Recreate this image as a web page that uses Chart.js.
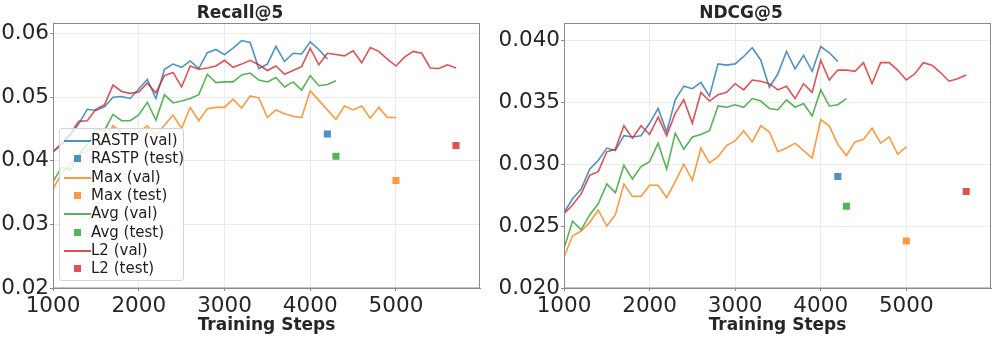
<!DOCTYPE html>
<html><head><meta charset="utf-8">
<script src="https://cdn.jsdelivr.net/npm/chart.js@4.4.1/dist/chart.umd.min.js"></script>
<style>
html,body{margin:0;padding:0;background:#fff;width:996px;height:338px;overflow:hidden;font-family:"DejaVu Sans",sans-serif;}
#wrap{position:relative;width:996px;height:338px;}
#c1{position:absolute;left:0;top:0;}
#c2{position:absolute;left:490px;top:0;}
#legend{position:absolute;left:59px;top:128px;width:125px;height:153px;border:1px solid #d4d4d4;border-radius:3px;background:rgba(255,255,255,0.8);box-sizing:border-box;}
.row{position:absolute;left:0;height:18px;width:122px;}
.ln{position:absolute;left:4px;top:8px;width:27px;height:2px;}
.sq{position:absolute;left:14px;top:5px;width:7px;height:7px;}
.tx{position:absolute;left:31px;top:-1px;font-size:15px;line-height:18px;color:#1e1e1e;white-space:nowrap;}
</style>
</head><body>
<div id="wrap">
<canvas id="c1" width="490" height="338"></canvas>
<canvas id="c2" width="506" height="338"></canvas>
<div id="legend"></div>
</div>
<script>
// ---- categories / ticks ----
const steps = [1000,1100,1200,1300,1400,1500,1600,1700,1800,1900,
               2000,2100,2200,2300,2400,2500,2600,2700,2800,2900,
               3000,3100,3200,3300,3400,3500,3600,3700,3800,3900,
               4000,4100,4200,4300,4400,4500,4600,4700,4800,4900,
               5000,5100,5200,5300,5400,5500,5600,5700];
const xTicks = [1000,2000,3000,4000,5000];
const recallTicks = [0.02,0.03,0.04,0.05,0.06];
const ndcgTicks = [0.020,0.025,0.030,0.035,0.040];
const seriesNames = ['RASTP','Max','Avg','L2'];
const seriesColors = ['rgba(31,119,180,0.8)','rgba(255,127,14,0.8)','rgba(44,160,44,0.8)','rgba(214,39,40,0.8)'];

// ---- Recall@5 validation curves ----
const recallRASTP = [0.0414,0.0426,0.0440,0.0458,0.0481,0.0479,0.0485,0.0500,0.0501,0.0498,
                     0.0513,0.0528,0.0498,0.0544,0.0552,0.0547,0.0557,0.0545,0.0570,0.0575,
                     0.0567,0.0577,0.0589,0.0586,0.0545,0.0552,0.0580,0.0556,0.0569,0.0568,
                     0.0587,0.0575,0.0560];
const recallMax = [0.0356,0.0380,0.0395,0.0410,0.0415,0.0420,0.0430,0.0455,0.0445,0.0440,
                   0.0445,0.0455,0.0440,0.0456,0.0472,0.0451,0.0484,0.0463,0.0482,0.0484,
                   0.0484,0.0497,0.0483,0.0502,0.0499,0.0468,0.0480,0.0474,0.0470,0.0468,
                   0.0510,0.0495,0.0480,0.0465,0.0486,0.0480,0.0486,0.0467,0.0484,0.0468,
                   0.0468];
const recallAvg = [0.0367,0.0390,0.0385,0.0410,0.0425,0.0450,0.0448,0.0473,0.0463,0.0463,
                   0.0472,0.0492,0.0464,0.0504,0.0491,0.0494,0.0498,0.0504,0.0536,0.0523,
                   0.0524,0.0524,0.0535,0.0538,0.0527,0.0524,0.0531,0.0516,0.0524,0.0511,
                   0.0534,0.0518,0.0520,0.0526];
const recallL2 = [0.0414,0.0427,0.0442,0.0462,0.0463,0.0481,0.0488,0.0519,0.0509,0.0506,
                  0.0508,0.0522,0.0507,0.0534,0.0539,0.0516,0.0549,0.0544,0.0546,0.0549,
                  0.0558,0.0547,0.0552,0.0558,0.0551,0.0542,0.0549,0.0536,0.0542,0.0548,
                  0.0577,0.0551,0.0569,0.0567,0.0565,0.0573,0.0554,0.0578,0.0572,0.0560,
                  0.0549,0.0563,0.0572,0.0569,0.0546,0.0545,0.0551,0.0546];

// ---- NDCG@5 validation curves ----
const ndcgRASTP = [0.0261,0.0272,0.0280,0.0296,0.0303,0.0313,0.0311,0.0323,0.0322,0.0323,
                   0.0333,0.0345,0.0326,0.0352,0.0363,0.0361,0.0366,0.0355,0.0381,0.0380,
                   0.0381,0.0387,0.0394,0.0384,0.0362,0.0373,0.0391,0.0377,0.0388,0.0375,
                   0.0395,0.0390,0.0383];
const ndcgMax = [0.0225,0.0242,0.0246,0.0253,0.0263,0.0250,0.0259,0.0284,0.0274,0.0274,
                 0.0283,0.0283,0.0273,0.0286,0.0300,0.0287,0.0313,0.0301,0.0306,0.0315,
                 0.0319,0.0327,0.0318,0.0331,0.0326,0.0310,0.0313,0.0317,0.0311,0.0305,
                 0.0336,0.0331,0.0316,0.0307,0.0318,0.0320,0.0329,0.0317,0.0322,0.0308,
                 0.0314];
const ndcgAvg = [0.0232,0.0254,0.0247,0.0259,0.0268,0.0284,0.0277,0.0299,0.0288,0.0298,
                 0.0302,0.0317,0.0296,0.0325,0.0312,0.0322,0.0324,0.0327,0.0347,0.0346,
                 0.0348,0.0346,0.0353,0.0351,0.0345,0.0344,0.0352,0.0346,0.0349,0.0339,
                 0.0360,0.0347,0.0348,0.0353];
const ndcgL2 = [0.0260,0.0267,0.0276,0.0291,0.0294,0.0310,0.0312,0.0331,0.0321,0.0331,
                0.0324,0.0338,0.0323,0.0341,0.0352,0.0333,0.0358,0.0351,0.0356,0.0358,
                0.0365,0.0360,0.0368,0.0367,0.0365,0.0360,0.0363,0.0353,0.0365,0.0358,
                0.0384,0.0368,0.0376,0.0376,0.0375,0.0382,0.0365,0.0382,0.0382,0.0376,
                0.0368,0.0373,0.0382,0.0380,0.0374,0.0367,0.0369,0.0372];

// ---- test results (RASTP, Max, Avg, L2) ----
const testSteps = [4200,5000,4300,5700];
const recallTest = [0.0442,0.0369,0.0407,0.0424];
const ndcgTest = [0.0290,0.0238,0.0266,0.0278];

Chart.defaults.font.family = "'DejaVu Sans', sans-serif";
Chart.defaults.color = '#262626';

const frame = {
  id: 'frame',
  afterDraw(chart) {
    const a = chart.chartArea, ctx = chart.ctx;
    ctx.save();
    ctx.strokeStyle = '#8a8a8a';
    ctx.lineWidth = 1;
    ctx.strokeRect(Math.round(a.left) + 0.5, Math.round(a.top) + 0.5,
                   Math.round(a.right - a.left) - 1, Math.round(a.bottom - a.top) - 0.5);
    ctx.restore();
  }
};

function buildDatasets(valArrays, testVals) {
  const ds = [];
  valArrays.forEach((vals, i) => {
    ds.push({
      type: 'line', label: seriesNames[i] + ' (val)',
      data: vals.map((v, k) => ({x: steps[k], y: v})),
      borderColor: seriesColors[i], backgroundColor: seriesColors[i],
      borderWidth: 1.6, pointRadius: 0, tension: 0, fill: false,
      order: 20 - 2 * i
    });
    ds.push({
      type: 'scatter', label: seriesNames[i] + ' (test)',
      data: [{x: testSteps[i], y: testVals[i]}],
      pointStyle: 'rect', pointRadius: 5, pointHoverRadius: 5,
      backgroundColor: seriesColors[i], borderColor: seriesColors[i], borderWidth: 0,
      order: 19 - 2 * i
    });
  });
  return ds;
}

function makeChart(id, title, valArrays, testVals, yTicks, yMin, yMax, xMax, yWidth, padRight, decimals) {
  return new Chart(document.getElementById(id), {
    type: 'line',
    data: { datasets: buildDatasets(valArrays, testVals) },
    plugins: [frame],
    options: {
      responsive: false, animation: false, devicePixelRatio: 1,
      layout: { padding: { left: 0, right: padRight, top: 0, bottom: 0 } },
      plugins: {
        legend: { display: false },
        tooltip: { enabled: false },
        title: { display: true, text: title, font: { size: 17, weight: 'bold' }, padding: { top: 3, bottom: 0 }, color: '#262626' }
      },
      scales: {
        x: {
          type: 'linear', min: 1000, max: xMax,
          afterBuildTicks: s => { s.ticks = xTicks.map(v => ({value: v})); },
          afterFit: s => { s.height = 50; },
          ticks: { font: { size: 21.5 }, color: '#262626', padding: 3, maxRotation: 0, callback: v => String(v) },
          grid: { color: '#ebebeb', lineWidth: 1, tickColor: '#8a8a8a', tickLength: 3, drawTicks: true },
          border: { display: true, color: '#8a8a8a' },
          title: { display: true, text: 'Training Steps', font: { size: 17, weight: 'bold' }, color: '#262626', padding: { top: 0, bottom: 2 } }
        },
        y: {
          type: 'linear', min: yMin, max: yMax,
          afterBuildTicks: s => { s.ticks = yTicks.map(v => ({value: v})); },
          afterFit: s => { s.width = yWidth; },
          ticks: { font: { size: 21.5 }, color: '#262626', padding: 1, callback: v => Number(v).toFixed(decimals) },
          grid: { color: '#ebebeb', lineWidth: 1, tickColor: '#8a8a8a', tickLength: 3, drawTicks: true },
          border: { display: true, color: '#8a8a8a' }
        }
      }
    }
  });
}

makeChart('c1', 'Recall@5', [recallRASTP, recallMax, recallAvg, recallL2], recallTest,
          recallTicks, 0.02, 0.0616, 5980, 53, 10, 2);
makeChart('c2', 'NDCG@5', [ndcgRASTP, ndcgMax, ndcgAvg, ndcgL2], ndcgTest,
          ndcgTicks, 0.020, 0.04137, 5990, 74, 4, 3);

// ---- legend (HTML, inside the left plot) ----
const legend = document.getElementById('legend');
let r = 0;
seriesNames.forEach((name, i) => {
  ['val', 'test'].forEach(kind => {
    const row = document.createElement('div');
    row.className = 'row';
    row.style.top = (3 + r * 18.3) + 'px';
    const mark = document.createElement('div');
    mark.className = kind === 'val' ? 'ln' : 'sq';
    mark.style.background = seriesColors[i];
    const t = document.createElement('div');
    t.className = 'tx';
    t.textContent = name + ' (' + kind + ')';
    row.appendChild(mark); row.appendChild(t);
    legend.appendChild(row);
    r++;
  });
});
</script>
</body></html>
